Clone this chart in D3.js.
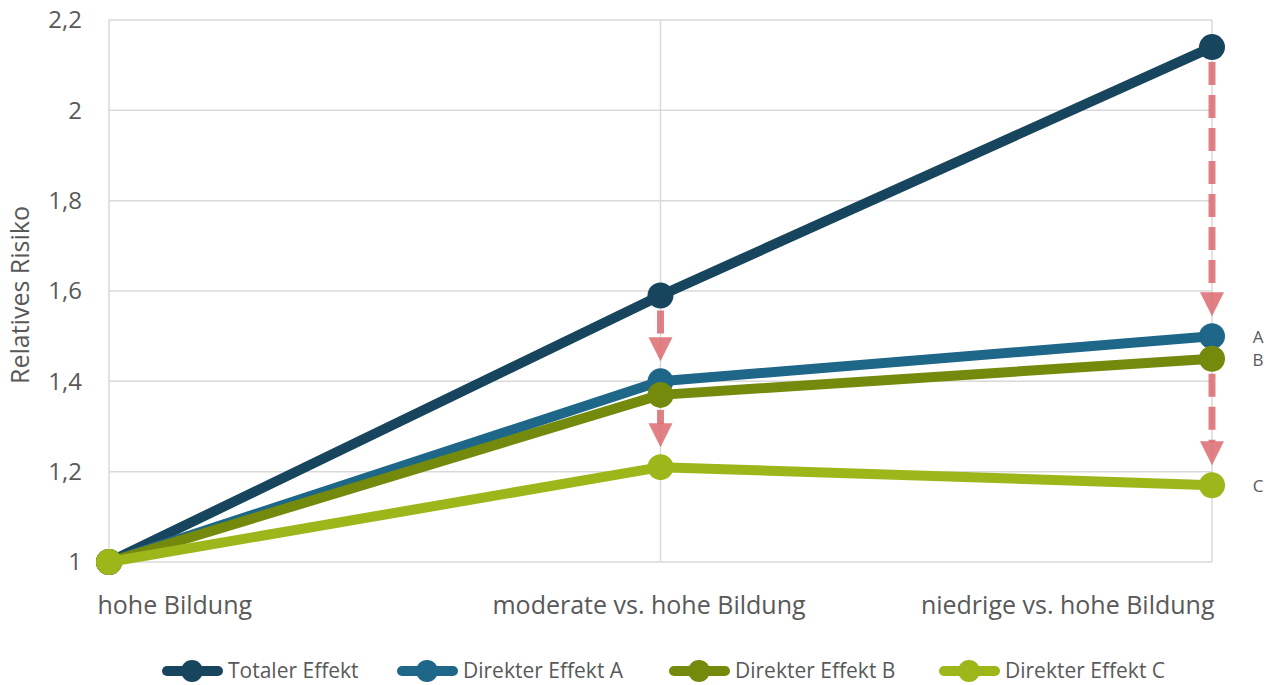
<!DOCTYPE html>
<html>
<head>
<meta charset="utf-8">
<script src="https://cdn.jsdelivr.net/npm/d3@7"></script>
<style>
  body { margin: 0; background: #fff; }
  #chart { width: 1276px; height: 685px; }
  text { font-family: "Open Sans", "Noto Sans", sans-serif; fill: #595959; }
</style>
</head>
<body>
<div id="chart"></div>
<script>
const categories = ["hohe Bildung", "moderate vs. hohe Bildung", "niedrige vs. hohe Bildung"];
const yTicks = [1, 1.2, 1.4, 1.6, 1.8, 2, 2.2];

const totalEffect = [1, 1.59, 2.14];
const directA = [1, 1.40, 1.50];
const directB = [1, 1.37, 1.45];
const directC = [1, 1.21, 1.17];

const seriesNames = ["Totaler Effekt", "Direkter Effekt A", "Direkter Effekt B", "Direkter Effekt C"];
const seriesColors = ["#17455e", "#1e6789", "#738a0c", "#9db619"];
const endLabels = ["", "A", "B", "C"];

// arrows: [category index, from value, to value]
const arrows = [
  [1, 1.59, 1.40],
  [1, 1.37, 1.21],
  [2, 2.14, 1.50],
  [2, 1.45, 1.17]
];

function renderChart() {
  const container = d3.select("#chart");
  const width = 1276, height = 685;
  const margin = { top: 20, right: 64, bottom: 123, left: 109 };
  const innerW = width - margin.left - margin.right;
  const innerH = height - margin.top - margin.bottom;

  const svg = container.append("svg").attr("width", width).attr("height", height);
  const g = svg.append("g").attr("transform", `translate(${margin.left},${margin.top})`);

  const x = d3.scalePoint().domain(categories).range([0, innerW]);
  const y = d3.scaleLinear().domain([1, 2.2]).range([innerH, 0]);
  const fmt = v => d3.format(".1~f")(v).replace(".", ",");

  // grid
  g.append("g").selectAll("line").data(yTicks).join("line")
    .attr("x1", 0).attr("x2", innerW)
    .attr("y1", d => y(d)).attr("y2", d => y(d))
    .attr("stroke", "#d9d9d9").attr("stroke-width", 1.5);
  g.append("g").selectAll("line").data(categories).join("line")
    .attr("x1", d => x(d)).attr("x2", d => x(d))
    .attr("y1", 0).attr("y2", innerH)
    .attr("stroke", "#d9d9d9").attr("stroke-width", 1.5);

  // y axis labels
  const yAxis = g.append("g")
    .call(d3.axisLeft(y).tickValues(yTicks).tickFormat(fmt).tickSize(0).tickPadding(27));
  yAxis.select(".domain").remove();
  yAxis.selectAll("text").attr("font-size", 24).attr("fill", "#595959")
    .attr("font-family", "Open Sans");

  // x axis labels: first left-aligned, last right-aligned as in the reference
  const xAxis = g.append("g").attr("transform", `translate(0,${innerH})`)
    .call(d3.axisBottom(x).tickSize(0).tickPadding(34));
  xAxis.select(".domain").remove();
  xAxis.selectAll("text").attr("font-size", 25).attr("fill", "#595959")
    .attr("font-family", "Open Sans")
    .attr("text-anchor", (d, i) => i === 0 ? "start" : i === categories.length - 1 ? "end" : "middle")
    .attr("dx", (d, i) => i === 0 ? -12 : i === categories.length - 1 ? 2 : -12);

  svg.append("text")
    .attr("transform", `translate(29,${margin.top + innerH / 2 + 4}) rotate(-90)`)
    .attr("text-anchor", "middle")
    .attr("font-size", 25)
    .text("Relatives Risiko");

  // series
  const allSeries = [totalEffect, directA, directB, directC];
  const line = d3.line().x((d, i) => x(categories[i])).y(d => y(d));

  allSeries.forEach((vals, s) => {
    g.append("path").datum(vals)
      .attr("fill", "none")
      .attr("stroke", seriesColors[s])
      .attr("stroke-width", 10)
      .attr("stroke-linejoin", "round")
      .attr("d", line);
    g.append("g").selectAll("circle").data(vals).join("circle")
      .attr("cx", (d, i) => x(categories[i]))
      .attr("cy", d => y(d))
      .attr("r", 13)
      .attr("fill", seriesColors[s]);
  });

  // end labels
  allSeries.forEach((vals, s) => {
    if (!endLabels[s]) return;
    g.append("text")
      .attr("x", innerW + 46)
      .attr("y", y(vals[vals.length - 1]) + 1)
      .attr("dy", "0.35em")
      .attr("text-anchor", "middle")
      .attr("font-size", 17)
      .text(endLabels[s]);
  });

  // arrows
  const arrowColor = "#dc6a70";
  arrows.forEach(([ci, from, to]) => {
    const cx = x(categories[ci]);
    const y0 = y(from) + 15;
    const tip = y(to) - 20;
    const headH = 24, headW = 24;
    g.append("line")
      .attr("x1", cx).attr("x2", cx)
      .attr("y1", y0).attr("y2", tip - headH + 1)
      .attr("stroke", arrowColor).attr("stroke-width", 7)
      .attr("stroke-dasharray", "23,10")
      .attr("opacity", 0.85);
    g.append("path")
      .attr("d", `M${cx - headW / 2},${tip - headH}L${cx + headW / 2},${tip - headH}L${cx},${tip}Z`)
      .attr("fill", arrowColor).attr("opacity", 0.85);
  });

  // legend
  const legendX = [163, 398, 670, 940];
  const legend = svg.append("g").attr("transform", "translate(0,671)");
  seriesNames.forEach((name, s) => {
    const lg = legend.append("g").attr("transform", `translate(${legendX[s]},0)`);
    lg.append("line").attr("x1", 4).attr("x2", 55).attr("y1", 0).attr("y2", 0)
      .attr("stroke", seriesColors[s]).attr("stroke-width", 10).attr("stroke-linecap", "round");
    lg.append("circle").attr("cx", 29).attr("cy", 0).attr("r", 11).attr("fill", seriesColors[s]);
    lg.append("text").attr("x", 65).attr("y", 0).attr("dy", "0.35em")
      .attr("font-size", 21).text(name);
  });
}

renderChart();
</script>
</body>
</html>
